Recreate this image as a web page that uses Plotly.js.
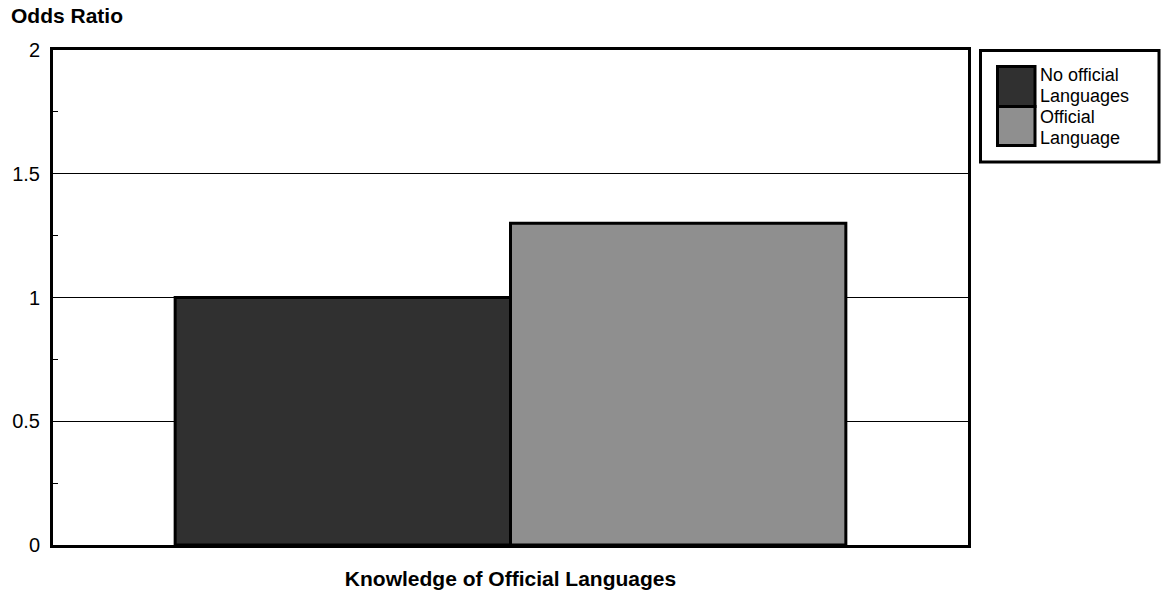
<!DOCTYPE html>
<html>
<head>
<meta charset="utf-8">
<script src="https://cdn.plot.ly/plotly-3.0.1.min.js"></script>
<style>
  html, body { margin: 0; padding: 0; background: #fff; }
  #chart { width: 1161px; height: 598px; }
</style>
</head>
<body>
<div id="chart"></div>
<script>
// Odds ratio by knowledge of official languages
const categories = ['Knowledge of Official Languages'];
const seriesNames = ['No official Languages', 'Official Language'];
const legendLines = [['No official', 'Languages'], ['Official', 'Language']];
const oddsNoOfficial = [1.0];
const oddsOfficial = [1.3];
const yTickValues = [0, 0.5, 1, 1.5, 2];
const yTickLabels = ['0', '0.5', '1', '1.5', '2'];
const seriesColors = ['#303030', '#8f8f8f'];

const FONT = 'Liberation Sans, Arial, Helvetica, sans-serif';
const W = 1161, H = 598;
const M = { l: 53, r: 193, t: 50, b: 53 };
const plotW = W - M.l - M.r, plotH = H - M.t - M.b;

// pixel helpers for the hand-drawn legend box (paper coordinates)
const px = x => (x - M.l) / plotW;
const py = y => (H - M.b - y) / plotH;

const traces = [oddsNoOfficial, oddsOfficial].map((vals, i) => ({
  type: 'bar',
  name: seriesNames[i],
  x: categories,
  y: vals,
  marker: { color: seriesColors[i], line: { color: '#000', width: 3 } },
  showlegend: false,
  hoverinfo: 'name+y'
}));

// legend: framed box, stacked swatches and two-line labels
const shapes = [{
  type: 'rect', xref: 'paper', yref: 'paper',
  x0: px(980.5), x1: px(1159), y0: py(50.5), y1: py(162),
  line: { color: '#000', width: 3 }, fillcolor: '#fff', layer: 'above'
}];
const swatchTop = [66.5, 106.5], swatchBottom = [106.5, 145.5];
seriesColors.forEach((c, i) => {
  shapes.push({
    type: 'rect', xref: 'paper', yref: 'paper',
    x0: px(997.5), x1: px(1035), y0: py(swatchBottom[i]), y1: py(swatchTop[i]),
    line: { color: '#000', width: 3 }, fillcolor: c, layer: 'above'
  });
});

const annotations = [];
const lineCenters = [[75, 96], [117, 138]];
legendLines.forEach((lines, i) => {
  lines.forEach((t, j) => {
    annotations.push({
      xref: 'paper', yref: 'paper',
      x: px(1038), y: py(lineCenters[i][j]),
      xanchor: 'left', yanchor: 'middle',
      text: t, showarrow: false,
      font: { family: FONT, size: 18, color: '#000' }
    });
  });
});

const layout = {
  width: W, height: H,
  margin: M,
  paper_bgcolor: '#fff', plot_bgcolor: '#fff',
  barmode: 'group',
  bargap: 0.267,
  bargroupgap: 0,
  font: { family: FONT, size: 20, color: '#000' },
  title: {
    text: '<b>Odds Ratio</b>',
    xref: 'container', yref: 'container',
    x: 11 / W, xanchor: 'left',
    y: 1 - 16 / H, yanchor: 'middle',
    font: { family: FONT, size: 21, color: '#000' }
  },
  xaxis: {
    type: 'category',
    range: [-0.5, 0.5],
    showticklabels: false,
    ticks: '',
    showgrid: false,
    showline: true, linecolor: '#000', linewidth: 3, mirror: true,
    zeroline: false,
    fixedrange: true,
    title: {
      text: '<b>' + categories[0] + '</b>',
      standoff: 25,
      font: { family: FONT, size: 21, color: '#000' }
    }
  },
  yaxis: {
    range: [0, 2],
    tickmode: 'array',
    tickvals: yTickValues,
    ticktext: yTickLabels,
    ticks: 'inside', ticklen: 10, tickwidth: 1, tickcolor: '#000',
    ticklabelstandoff: 6,
    minor: { dtick: 0.25, ticks: 'inside', ticklen: 5, tickwidth: 1, tickcolor: '#000', showgrid: false },
    showgrid: true, gridcolor: '#000', gridwidth: 1,
    showline: true, linecolor: '#000', linewidth: 3, mirror: true,
    zeroline: false,
    fixedrange: true,
    tickfont: { family: FONT, size: 20, color: '#000' }
  },
  shapes: shapes,
  annotations: annotations
};

Plotly.newPlot('chart', traces, layout, { displayModeBar: false });
</script>
</body>
</html>
